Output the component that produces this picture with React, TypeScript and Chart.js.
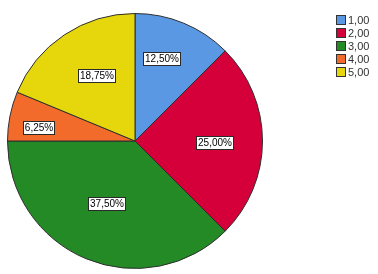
import React, { useEffect, useRef } from "react";
import { Chart, registerables } from "chart.js";

Chart.register(...registerables);

const categories = ["1,00", "2,00", "3,00", "4,00", "5,00"];
const counts = [2, 4, 6, 1, 3];
const sliceColors = ["#5A98E4", "#D5003A", "#238A25", "#F26B2B", "#E6D70C"];
// label placement inside each slice: fraction along the arc angle, fraction of radius
const labelAngleFrac = [0.4, 0.51, 0.516, 0.364, 0.547];
const labelRadiusFrac = [0.68, 0.62, 0.54, 0.765, 0.6];

const fmtPct = (v: number, total: number) =>
  ((v / total) * 100).toFixed(2).replace(".", ",") + "%";

const labelPlugin = {
  id: "sliceLabels",
  afterDatasetsDraw(chart: any) {
    const ctx = chart.ctx;
    const meta = chart.getDatasetMeta(0);
    const data = chart.data.datasets[0].data as number[];
    const total = data.reduce((a, b) => a + b, 0);
    ctx.save();
    ctx.font = "10px 'Liberation Sans', Arial, sans-serif";
    ctx.textBaseline = "middle";
    ctx.textAlign = "center";
    meta.data.forEach((arc: any, i: number) => {
      const { x, y, startAngle, endAngle, outerRadius } = arc.getProps(
        ["x", "y", "startAngle", "endAngle", "outerRadius"],
        true
      );
      const a = startAngle + (endAngle - startAngle) * labelAngleFrac[i];
      const r = outerRadius * labelRadiusFrac[i];
      const cx = x + Math.cos(a) * r;
      const cy = y + Math.sin(a) * r;
      const text = fmtPct(data[i], total);
      const w = Math.round(ctx.measureText(text).width + 3);
      const h = 13;
      const bx = Math.round(cx - w / 2) + 0.5;
      const by = Math.round(cy - h / 2) + 0.5;
      ctx.fillStyle = "#ffffff";
      ctx.fillRect(bx, by, w, h);
      ctx.strokeStyle = "#2a2a2a";
      ctx.lineWidth = 1;
      ctx.strokeRect(bx, by, w, h);
      ctx.fillStyle = "#000000";
      ctx.fillText(text, bx + w / 2, by + h / 2 + 0.5);
    });
    ctx.restore();
  },
};

const legendPlugin = {
  id: "customLegend",
  afterDraw(chart: any) {
    const ctx = chart.ctx;
    const ds = chart.data.datasets[0];
    ctx.save();
    ctx.font = "11px 'Liberation Sans', Arial, sans-serif";
    ctx.textBaseline = "middle";
    ctx.textAlign = "left";
    (chart.data.labels as string[]).forEach((lab, i) => {
      const top = 15 + i * 13;
      ctx.fillStyle = ds.backgroundColor[i];
      ctx.fillRect(336.5, top + 0.5, 9, 9);
      ctx.strokeStyle = "#333333";
      ctx.lineWidth = 1;
      ctx.strokeRect(336.5, top + 0.5, 9, 9);
      ctx.fillStyle = "#333333";
      ctx.fillText(lab, 348, top + 5.5);
    });
    ctx.restore();
  },
};

export default function App() {
  const ref = useRef<HTMLCanvasElement | null>(null);
  useEffect(() => {
    if (!ref.current) return;
    const chart = new Chart(ref.current, {
      type: "pie",
      data: {
        labels: categories,
        datasets: [
          {
            data: counts,
            backgroundColor: sliceColors,
            borderColor: "#2f2f2f",
            borderWidth: 1,
          },
        ],
      },
      options: {
        responsive: false,
        animation: false,
        devicePixelRatio: 1,
        layout: { padding: { left: 7, top: 13, right: 115, bottom: 5 } },
        plugins: {
          legend: { display: false },
          tooltip: { enabled: false },
          title: { display: false },
        },
      },
      plugins: [labelPlugin, legendPlugin],
    });
    return () => chart.destroy();
  }, []);
  return (
    <div style={{ position: "fixed", left: 0, top: 0, width: 378, height: 274, background: "#ffffff" }}>
      <canvas ref={ref} width={378} height={274} style={{ display: "block" }} />
    </div>
  );
}
